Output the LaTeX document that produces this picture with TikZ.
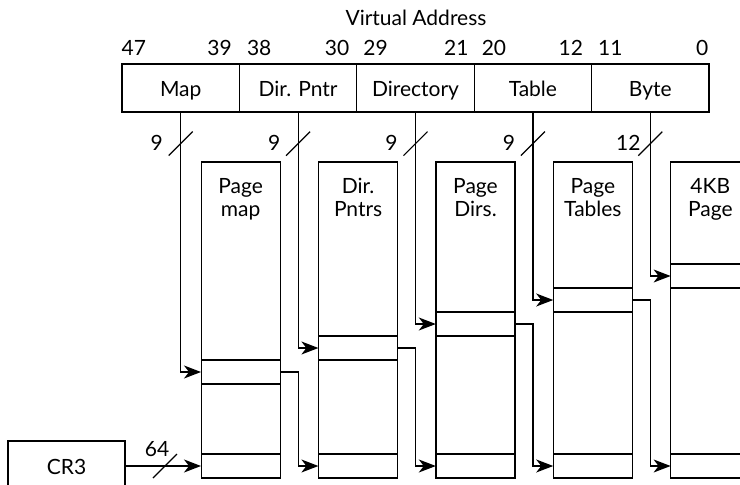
\documentclass[tikz,border=0pt]{standalone}
\usepackage{fontspec}
\setmainfont{Lato}
\usetikzlibrary{arrows.meta}

\begin{document}
\begin{tikzpicture}[x=1pt,y=-1pt,font=\fontsize{21}{23}\selectfont,
    field/.style={draw,line width=1.2pt,minimum width=117.4pt,minimum height=48pt,inner sep=0pt,
                  text height=16pt,text depth=0pt},
    pagebox/.style={draw,line width=1.2pt,minimum width=79pt,minimum height=316pt,inner sep=0pt},
    entry/.style={minimum width=79pt,minimum height=24pt,inner sep=0pt},
    tlabel/.style={align=center,anchor=north,inner sep=0pt},
    bit/.style={inner sep=0pt},
    link/.style={line width=1.2pt,-{Stealth[length=17pt,width=13pt,inset=5pt]}},
    wide/.style={line width=1.6pt},
    tick/.style={line width=1.2pt}]
\clip (0,0) rectangle (740,485);
\useasboundingbox (0,0) rectangle (740,485);

% address fields
\node (va) at (416,18) {Virtual Address};
\node[field] (map) at (180.7,88) {Map};
\node[field] (dirp) at (298.1,88) {Dir. Pntr};
\node[field] (dir) at (415.5,88) {Directory};
\node[field] (tab) at (532.9,88) {Table};
\node[field] (byte) at (650.3,88) {Byte};

\node[bit,anchor=base west] (n47) at ([yshift=7.5pt]map.north west) {47};
\node[bit,anchor=base east] (n39) at ([xshift=-8pt,yshift=7.5pt]map.north east) {39};
\node[bit,anchor=base west] (n38) at ([xshift=8pt,yshift=7.5pt]dirp.north west) {38};
\node[bit,anchor=base east] (n30) at ([xshift=-8pt,yshift=7.5pt]dirp.north east) {30};
\node[bit,anchor=base west] (n29) at ([xshift=7pt,yshift=7.5pt]dir.north west) {29};
\node[bit,anchor=base east] (n21) at ([xshift=-6pt,yshift=7.5pt]dir.north east) {21};
\node[bit,anchor=base west] (n20) at ([xshift=8pt,yshift=7.5pt]tab.north west) {20};
\node[bit,anchor=base east] (n12) at ([xshift=-9pt,yshift=7.5pt]tab.north east) {12};
\node[bit,anchor=base west] (n11) at ([xshift=7pt,yshift=7.5pt]byte.north west) {11};
\node[bit,anchor=base east] (n0) at ([xshift=-1pt,yshift=7.5pt]byte.north east) {0};

% tables
\node[pagebox] (pmap) at (240.7,320) {};
\node[tlabel] (pmapl) at ([yshift=-17pt]pmap.north) {Page\\map};
\node[pagebox] (pdp) at (358.1,320) {};
\node[tlabel] (pdpl) at ([yshift=-17pt]pdp.north) {Dir.\\Pntrs};
\node[pagebox] (pdir) at (475.5,320) {};
\node[tlabel] (pdirl) at ([yshift=-17pt]pdir.north) {Page\\Dirs.};
\node[pagebox] (ptab) at (592.9,320) {};
\node[tlabel] (ptabl) at ([yshift=-17pt]ptab.north) {Page\\Tables};
\node[pagebox] (page) at (710.3,320) {};
\node[tlabel] (pagel) at ([yshift=-17pt]page.north) {4KB\\Page};

% selected entries
\node[entry] (pmape) at (240.7,372) {};
\node[entry] (pdpe) at (358.1,348) {};
\node[entry] (pdire) at (475.5,324) {};
\node[entry] (ptabe) at (592.9,300) {};
\node[entry] (pagee) at (710.3,276) {};
% base entries
\node[entry] (pmapb) at (240.7,466) {};
\node[entry] (pdpb) at (358.1,466) {};
\node[entry] (pdirb) at (475.5,466) {};
\node[entry] (ptabb) at (592.9,466) {};
\node[entry] (pageb) at (710.3,466) {};

\draw[wide] (pmape.north west) -- (pmape.north east) (pmape.south west) -- (pmape.south east)
            (pdpe.north west) -- (pdpe.north east) (pdpe.south west) -- (pdpe.south east)
            (pdire.north west) -- (pdire.north east) (pdire.south west) -- (pdire.south east)
            (ptabe.north west) -- (ptabe.north east) (ptabe.south west) -- (ptabe.south east)
            (pagee.north west) -- (pagee.north east) (pagee.south west) -- (pagee.south east);
\draw[wide] (pmapb.north west) -- (pmapb.north east)
            (pdpb.north west) -- (pdpb.north east)
            (pdirb.north west) -- (pdirb.north east)
            (ptabb.north west) -- (ptabb.north east)
            (pageb.north west) -- (pageb.north east);

% index lines
\draw[link] (map.south) |- (pmape.west);
\draw[link] (dirp.south) |- (pdpe.west);
\draw[link] (dir.south) |- (pdire.west);
\draw[link] (tab.south) |- (ptabe.west);
\draw[link] (byte.south) |- (pagee.west);

% entry to next table
\draw[link] (pmape.east) -| (dirp.south |- pdpb.west) -- (pdpb.west);
\draw[link] (pdpe.east) -| (dir.south |- pdirb.west) -- (pdirb.west);
\draw[link] (pdire.east) -| (tab.south |- ptabb.west) -- (ptabb.west);
\draw[link] (ptabe.east) -| (byte.south |- pageb.west) -- (pageb.west);

% bus widths
\coordinate (mapc) at ([yshift=-31pt]map.south);
\coordinate (dirpc) at ([yshift=-31pt]dirp.south);
\coordinate (dirc) at ([yshift=-31pt]dir.south);
\coordinate (tabc) at ([yshift=-31pt]tab.south);
\coordinate (bytec) at ([yshift=-31pt]byte.south);
\draw[tick] ([shift={(-12,12)}]mapc) -- ([shift={(12,-12)}]mapc);
\draw[tick] ([shift={(-12,12)}]dirpc) -- ([shift={(12,-12)}]dirpc);
\draw[tick] ([shift={(-12,12)}]dirc) -- ([shift={(12,-12)}]dirc);
\draw[tick] ([shift={(-12,12)}]tabc) -- ([shift={(12,-12)}]tabc);
\draw[tick] ([shift={(-12,12)}]bytec) -- ([shift={(12,-12)}]bytec);
\node (mapw) at ([shift={(-24,-1)}]mapc) {9};
\node (dirpw) at ([shift={(-24,-1)}]dirpc) {9};
\node (dirw) at ([shift={(-24,-1)}]dirc) {9};
\node (tabw) at ([shift={(-24,-1)}]tabc) {9};
\node (bytew) at ([shift={(-22,-1)}]bytec) {12};

% CR3
\node[field,minimum width=117pt,minimum height=50pt] (cr3) at (66.5,466) {CR3};
\draw[link] (cr3.east) -- (pmapb.west);
\coordinate (crc) at (165,466);
\draw[tick] ([shift={(-12,12)}]crc) -- ([shift={(12,-12)}]crc);
\node (crw) at ([shift={(-8,-17)}]crc) {64};
\end{tikzpicture}
\end{document}
